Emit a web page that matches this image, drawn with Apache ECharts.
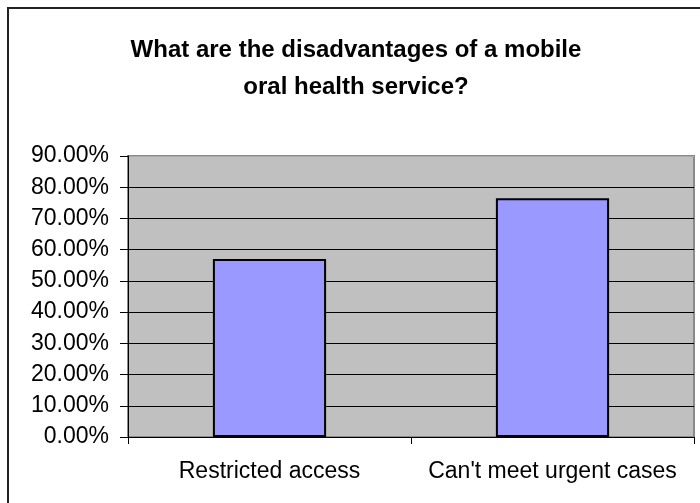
<!DOCTYPE html>
<html>
<head>
<meta charset="utf-8">
<script src="https://cdn.jsdelivr.net/npm/echarts@6/dist/echarts.min.js"></script>
<style>
html,body{margin:0;padding:0;background:#fff;}
#chart{width:700px;height:503px;}
</style>
</head>
<body>
<div id="chart"></div>
<script>
const titleText = 'What are the disadvantages of a mobile\noral health service?';
const categories = ['Restricted access', "Can't meet urgent cases"];
const values = [57.0, 76.5];
const yMin = 0, yMax = 90, yInterval = 10;

const chart = echarts.init(document.getElementById('chart'), null, {renderer: 'canvas'});
const font = '"Liberation Sans", Arial, sans-serif';
const splitColors = [];
for (let v = yMin; v <= yMax; v += yInterval) splitColors.push(v === yMax ? '#a8a8a8' : '#000000');

chart.setOption({
  backgroundColor: '#ffffff',
  animation: false,
  title: {
    text: titleText,
    left: 351,
    top: 27,
    textAlign: 'center',
    textStyle: {fontFamily: font, fontSize: 24, fontWeight: 'bold', color: '#000', lineHeight: 37}
  },
  graphic: [{
    type: 'rect',
    shape: {x: 8, y: 8, width: 740, height: 540},
    style: {fill: 'none', stroke: '#222', lineWidth: 2},
    z: 100
  }],
  grid: {
    left: 128, right: 6, top: 156, bottom: 66,
    show: true, backgroundColor: '#c0c0c0', borderColor: '#8a8a8a', borderWidth: 2
  },
  xAxis: {
    type: 'category',
    data: categories,
    axisLine: {lineStyle: {color: '#000', width: 1}},
    axisTick: {show: true, length: 7, lineStyle: {color: '#000'}},
    axisLabel: {fontFamily: font, fontSize: 23, color: '#000', margin: 23, interval: 0, hideOverlap: false}
  },
  yAxis: {
    type: 'value',
    min: yMin, max: yMax, interval: yInterval,
    axisLine: {show: true, lineStyle: {color: '#000', width: 1}},
    axisTick: {show: true, length: 8, lineStyle: {color: '#000'}},
    axisLabel: {fontFamily: font, fontSize: 23, color: '#000', margin: 19,
      formatter: v => v.toFixed(2) + '%'},
    splitLine: {show: true, lineStyle: {color: splitColors, width: 1}}
  },
  series: [{
    type: 'bar',
    data: values,
    barCategoryGap: '60%',
    itemStyle: {color: '#9999ff', borderColor: '#000', borderWidth: 2}
  }]
});
</script>
</body>
</html>
